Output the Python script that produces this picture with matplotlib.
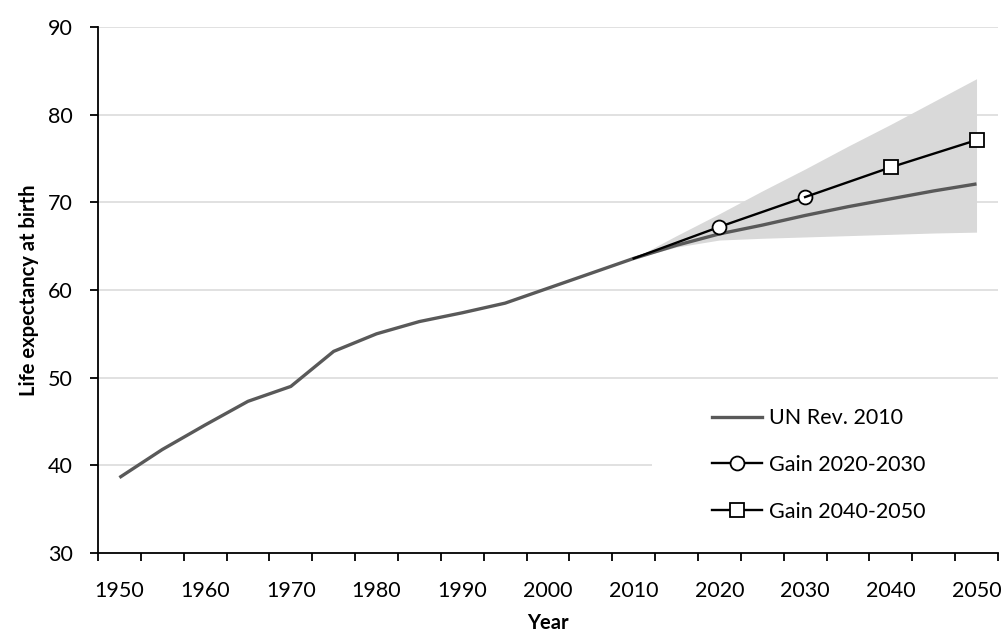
#!/usr/bin/env python3
import matplotlib

matplotlib.use("Agg", force=True)
import matplotlib.pyplot as plt
import numpy as np
from matplotlib.lines import Line2D
from matplotlib.patches import Rectangle

plt.rcParams["font.family"] = ["Lato", "DejaVu Sans"]

# UN Rev. 2010 series, five-year steps
years = [1950, 1955, 1960, 1965, 1970, 1975, 1980, 1985, 1990, 1995, 2000,
         2005, 2010, 2015, 2020, 2025, 2030, 2035, 2040, 2045, 2050]
un_rev_2010 = [38.6, 41.8, 44.6, 47.3, 49.0, 53.0, 55.0, 56.4, 57.4, 58.5, 60.2,
               61.9, 63.6, 65.1, 66.4, 67.4, 68.5, 69.5, 70.4, 71.3, 72.1]

# uncertainty band (2010-2050)
band_years = [2010, 2015, 2020, 2025, 2030, 2035, 2040, 2045, 2050]
band_low = [63.6, 64.9, 65.7, 65.9, 66.05, 66.2, 66.35, 66.5, 66.6]
band_high = [63.6, 66.2, 68.7, 71.3, 73.8, 76.4, 78.9, 81.5, 84.1]

# gain scenarios
gain1_years = [2010, 2020, 2030]
gain1_vals = [63.6, 67.2, 70.6]
gain2_years = [2030, 2040, 2050]
gain2_vals = [70.6, 74.0, 77.1]

x_labels = [1950, 1960, 1970, 1980, 1990, 2000, 2010, 2020, 2030, 2040, 2050]
y_ticks = [30, 40, 50, 60, 70, 80, 90]

fig = plt.figure(figsize=(10.07, 6.37), dpi=100)
ax = fig.add_axes([0.0973, 0.1319, 0.8937, 0.8257])

for y in y_ticks[1:]:
    ax.axhline(y, color="#d9d9d9", linewidth=1.1, zorder=0)

# white legend background box (hides the gridline behind the legend)
ax.add_patch(Rectangle((0.6156, 0.01), 0.384, 0.30, transform=ax.transAxes,
                       facecolor="white", edgecolor="none", zorder=0.5))

ax.fill_between(band_years, band_low, band_high, color="#d9d9d9", linewidth=0, zorder=1)
ax.plot(years, un_rev_2010, color="#595959", linewidth=2.4, solid_capstyle="butt", zorder=2)
ax.plot(gain1_years, gain1_vals, color="black", linewidth=1.7, marker="o", markersize=10,
        markerfacecolor="white", markeredgecolor="black", markeredgewidth=1.3, markevery=[1, 2], zorder=3)
ax.plot(gain2_years, gain2_vals, color="black", linewidth=1.7, marker="s", markersize=10,
        markerfacecolor="white", markeredgecolor="black", markeredgewidth=1.3, markevery=[1, 2], zorder=3)

ax.set_xlim(1947.5, 2052.5)
ax.set_ylim(30, 90)
ax.set_yticks(y_ticks)
ax.set_xticks(x_labels)
ax.set_xticks(np.arange(1947.5, 2053, 5), minor=True)
ax.tick_params(axis="x", which="major", length=0, pad=20, labelsize=15.5)
ax.tick_params(axis="x", which="minor", length=6, width=1.3, direction="out")
ax.tick_params(axis="y", length=6, width=1.3, direction="out", pad=12, labelsize=15.5)

for side in ("top", "right"):
    ax.spines[side].set_visible(False)
for side in ("left", "bottom"):
    ax.spines[side].set_linewidth(1.3)

ax.set_xlabel("Year", fontsize=14.5, fontweight="bold", labelpad=9)
ax.set_ylabel("Life expectancy at birth", fontsize=14.5, fontweight="bold", labelpad=6.5)

handles = [
    Line2D([], [], color="#595959", linewidth=2.4),
    Line2D([], [], color="black", linewidth=1.7, marker="o", markersize=10,
           markerfacecolor="white", markeredgecolor="black", markeredgewidth=1.3),
    Line2D([], [], color="black", linewidth=1.7, marker="s", markersize=10,
           markerfacecolor="white", markeredgecolor="black", markeredgewidth=1.3),
]
labels = ["UN Rev. 2010", "Gain 2020-2030", "Gain 2040-2050"]
leg = ax.legend(handles, labels, loc="upper left", bbox_to_anchor=(0.682, 0.2755),
                frameon=False, fontsize=15.5, handlelength=2.35, handletextpad=0.3,
                labelspacing=1.25, borderpad=0.0, borderaxespad=0.0)
leg.set_zorder(4)

fig.savefig("out.png", dpi=100)
